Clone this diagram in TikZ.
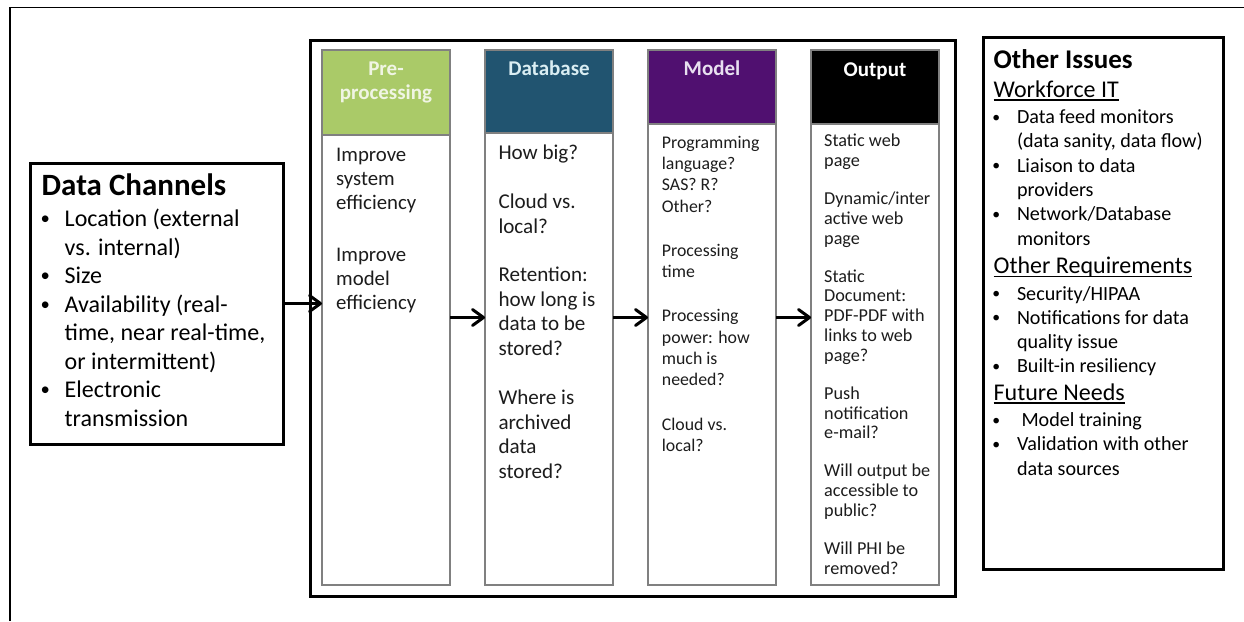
\documentclass[tikz,border=0pt]{standalone}
\usepackage{fontspec}
\setmainfont{Carlito}
\usepackage{tikz}
\usetikzlibrary{arrows.meta,calc,positioning}

\definecolor{prefill}{RGB}{170,202,104}
\definecolor{pretext}{RGB}{240,245,228}
\definecolor{dbfill}{RGB}{33,84,112}
\definecolor{dbtext}{RGB}{218,238,243}
\definecolor{modfill}{RGB}{80,16,112}
\definecolor{modtext}{RGB}{232,224,240}
\definecolor{colgray}{RGB}{128,128,128}
\definecolor{bodytext}{RGB}{28,28,28}

\newlength{\bulx}
\newlength{\txtx}
\newcommand{\fsz}[2]{\fontsize{#1}{#2}\selectfont}
\newcommand{\bul}{\leavevmode\hspace*{\bulx}\makebox[0pt]{\raisebox{0.07em}{\scalebox{0.78}{\textbullet}}}\hspace*{\dimexpr\txtx-\bulx\relax}}
\newcommand{\ind}{\leavevmode\hspace*{\txtx}}
\newcommand{\headul}[1]{\leavevmode\setbox0\hbox{#1}\rlap{\rule[-3.5pt]{\wd0}{1.3pt}}\box0}
\newcommand{\coltext}[2]{\parbox[t]{#1}{\raggedright #2}}

\begin{document}
\begin{tikzpicture}[%
x=1pt, y=-1pt,
node distance=35pt,
colbox/.style={draw=colgray, line width=1.5pt, minimum width=128pt, minimum height=535pt, inner sep=0pt, outer sep=0pt},
headbox/.style={colbox, minimum height=#1},
headtxt/.style={anchor=base, inner sep=0pt, font=\bfseries\fsz{21}{24.5}},
coltxt/.style={anchor=base west, inner sep=0pt, text=bodytext},
infobox/.style={draw, line width=3pt, inner sep=0pt},
flow/.style={line width=3pt, -{Straight Barb[length=11pt,width=16pt,round]}}
]
\useasboundingbox (0,0) rectangle (1244,621);

% outer frame
\draw[line width=1.8pt] (10,621) -- (10,7.5) -- (1244,7.5);

% boxes
\node[infobox, minimum width=253pt, minimum height=281pt] (data) at (156.5,303.5) {};
\node[infobox, minimum width=645pt, minimum height=556pt] (pipe) at (632.5,318) {};
\node[infobox, minimum width=240pt, minimum height=532pt] (other) at (1103,303) {};

% pipeline columns
\node[colbox] (pre) at (386,317.5) {};
\node[colbox, right=of pre] (db) {};
\node[colbox, right=of db] (mod) {};
\node[colbox, right=of mod] (out) {};

\node[headbox=85pt, fill=prefill, anchor=north] (prehead) at (pre.north) {};
\node[headbox=83pt, fill=dbfill, anchor=north] (dbhead) at (db.north) {};
\node[headbox=74pt, fill=modfill, anchor=north] (modhead) at (mod.north) {};
\node[headbox=74pt, fill=black, anchor=north] (outhead) at (out.north) {};

\node[headtxt, text=pretext] (pretitle) at ($(prehead.north)+(0,25)$) {\parbox[t]{120pt}{\centering Pre-\\processing}};
\node[headtxt, text=dbtext] (dbtitle) at ($(dbhead.north)+(0,25)$) {Database};
\node[headtxt, text=modtext] (modtitle) at ($(modhead.north)+(0,25)$) {Model};
\node[headtxt, text=white] (outtitle) at ($(outhead.north)+(0,26)$) {Output};

\node[coltxt] (pretxt) at ($(pre.north west)+(14,111)$) {\coltext{140pt}{\fsz{20.8}{24}Improve\\system\\efficiency\\[28pt]Improve\\model\\efficiency}};
\node[coltxt] (dbtxt) at ($(db.north west)+(13.3,109.3)$) {\coltext{140pt}{\fsz{21.1}{24.7}How big?\\[24.3pt]Cloud vs.\\local?\\[23.7pt]Retention:\\how long is\\data to be\\stored?\\[24.3pt]Where is\\archived\\data\\stored?}};
\node[coltxt] (modtxt) at ($(mod.north west)+(13.7,98.3)$) {\coltext{140pt}{\fsz{17.8}{21.3}Programming\\language?\\SAS? R?\\Other?\\[22.8pt]Processing\\time\\[23pt]Processing\\power: how\\much is\\needed?\\[23pt]Cloud vs.\\local?}};
\node[coltxt] (outtxt) at ($(out.north west)+(13,96.7)$) {\coltext{140pt}{\fsz{18.2}{19.8}Static web\\page\\[18.2pt]Dynamic/inter\\active web\\page\\[18.2pt]Static\\Document:\\PDF-PDF with\\links to web\\page?\\[18.2pt]Push\\notification\\e-mail?\\[18.2pt]Will output be\\accessible to\\public?\\[18.2pt]Will PHI be\\removed?}};

% side texts
\node[coltxt, text=black] (datatitle) at ($(data.north west)+(13,34)$) {\fsz{31}{37}\bfseries Data Channels};
\node[coltxt, text=black] (datalist) at ($(data.north west)+(13,65)$) {\coltext{240pt}{\fsz{24}{28.5}\setlength\bulx{3.7pt}\setlength\txtx{23pt}%
\bul Location (external\\\ind vs. internal)\\\bul Size\\\bul Availability (real-\\\ind time, near real-time,\\\ind or intermittent)\\\bul Electronic\\\ind transmission}};

\node[coltxt, text=black] (othertxt) at ($(other.north west)+(12,32.5)$) {\coltext{225pt}{\fsz{20.1}{24.3}\setlength\bulx{2.5pt}\setlength\txtx{23.3pt}%
\leavevmode{\fsz{27}{30}\bfseries Other Issues}\\[4.7pt]
{\fsz{24}{26}\headul{Workforce IT}}\\[2.2pt]
\bul Data feed monitors\\\ind (data sanity, data flow)\\\bul Liaison to data\\\ind providers\\\bul Network/Database\\\ind monitors\\[4.2pt]
{\fsz{24}{26}\headul{Other Requirements}}\\[2.2pt]
\bul Security/HIPAA\\\bul Notifications for data\\\ind quality issue\\\bul Built-in resiliency\\[2.8pt]
{\fsz{24}{26}\headul{Future Needs}}\\[2.2pt]
\bul\ Model training\\\bul Validation with other\\\ind data sources}};

% flow arrows
\draw[flow] (data.east) -- (data.east -| pre.west);
\draw[flow] (pre) -- (db);
\draw[flow] (db) -- (mod);
\draw[flow] (mod) -- (out);

\end{tikzpicture}
\end{document}
